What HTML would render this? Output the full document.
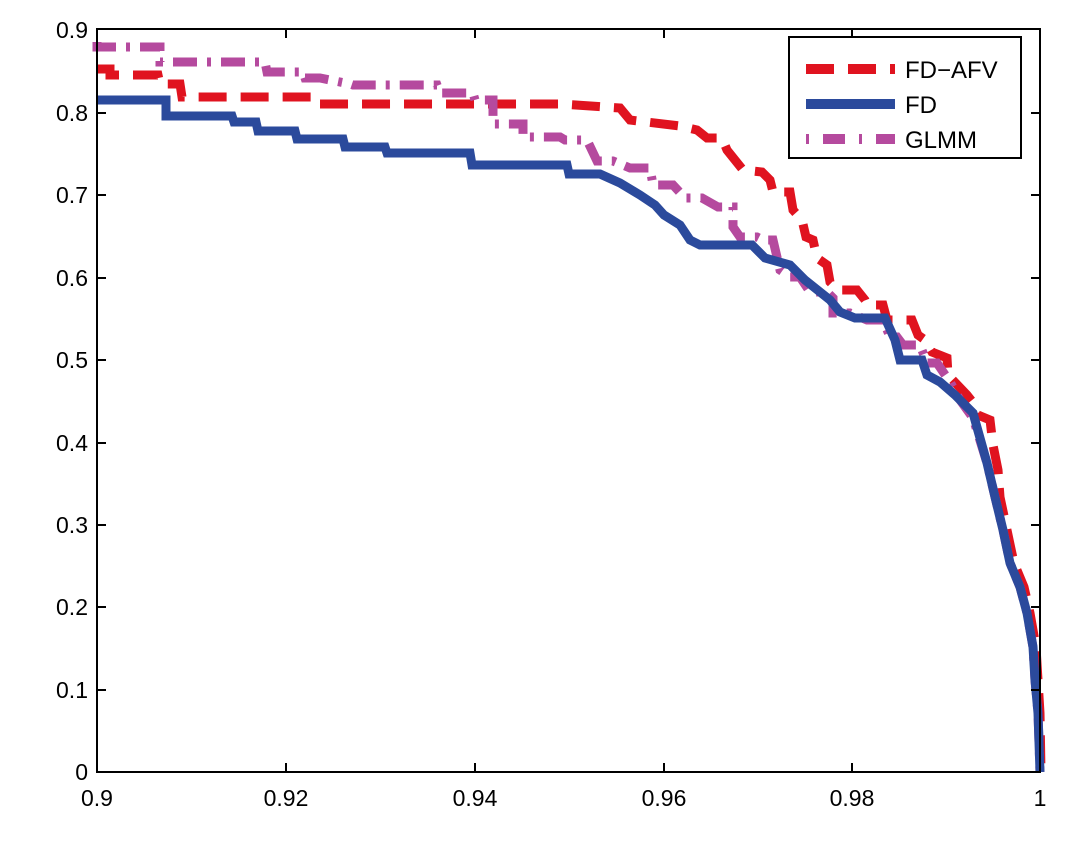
<!DOCTYPE html>
<html><head><meta charset="utf-8"><style>body{margin:0;background:#fff}svg{display:block}</style></head>
<body>
<svg width="1080" height="851" viewBox="0 0 1080 851" xmlns="http://www.w3.org/2000/svg" font-family="Liberation Sans, sans-serif">
<rect width="1080" height="851" fill="#fff"/>
<g fill="none" stroke-width="9">
<polyline stroke="#e0131f" stroke-dasharray="28 14" points="97,69 110,69 110,75 158,75 160,84 180,84 182,97 315,97 318,104 560,104 620,108 630,120 680,126 697,130 707,138 722,138 727,150 743,170 762,172 770,180 773,192 790,192 793,210 802,220 806,237 813,240 817,258 827,265 830,282 838,290 857,290 865,300 867,305 883,305 887,320 912,320 918,335 925,340 932,352 947,358 948,375 967,395 975,405 978,415 990,420 993,445 998,470 1000,497 1007,530 1014,563 1024,587 1030,613 1036,647 1038,680 1040,713 1041,772"/>
<polyline stroke="#b54a9e" stroke-dasharray="24 10 4 10" points="97,42 97,47 160,47 160,62 265,62 267,72 303,72 305,78 320,78 350,84 353,85 437,85 440,93 473,93 475,100 493,100 493,124 523,124 523,137 560,137 565,140 587,140 597,161 613,161 630,168 650,168 653,185 673,185 685,198 702,198 718,207 733,207 733,227 740,237 757,237 763,240 773,240 780,270 790,277 800,277 810,292 827,292 833,298 833,313 850,313 867,320 883,320 890,337 897,337 903,345 920,345 927,363 937,363 950,382 960,400 973,418 987,463 995,497 1003,530 1010,563 1020,587 1027,613 1033,647 1035,680 1038,713 1040,772"/>
<polyline stroke="#2b4a9c" points="97,100 166,100 166,116 232,116 234,122 256,122 258,131 295,131 297,139 343,139 345,147 385,147 387,153 470,153 472,165 567,165 569,174 600,174 620,183 640,195 655,205 664,215 680,225 690,240 700,245 752,245 765,258 790,265 805,280 830,300 840,312 855,318 885,318 895,340 900,360 922,360 927,375 940,382 955,395 973,413 987,463 995,497 1003,530 1010,563 1020,587 1027,613 1033,647 1035,680 1038,713 1040,772"/>
</g>
<g stroke="#000" stroke-width="2" fill="none">
<rect x="97" y="29" width="943" height="743"/>
<path d="M286,772v-9M475,772v-9M664,772v-9M852,772v-9M286,29v9M475,29v9M664,29v9M852,29v9"/>
<path d="M97,690h9M97,607h9M97,525h9M97,443h9M97,360h9M97,278h9M97,195h9M97,113h9M1040,690h-9M1040,607h-9M1040,525h-9M1040,443h-9M1040,360h-9M1040,278h-9M1040,195h-9M1040,113h-9"/>
</g>
<g font-size="23" fill="#000" text-anchor="end">
<text x="88" y="780">0</text><text x="88" y="698">0.1</text><text x="88" y="615">0.2</text><text x="88" y="533">0.3</text><text x="88" y="451">0.4</text><text x="88" y="368">0.5</text><text x="88" y="286">0.6</text><text x="88" y="203">0.7</text><text x="88" y="121">0.8</text><text x="88" y="38">0.9</text>
</g>
<g font-size="23" fill="#000" text-anchor="middle">
<text x="97" y="806">0.9</text><text x="286" y="806">0.92</text><text x="475" y="806">0.94</text><text x="664" y="806">0.96</text><text x="852" y="806">0.98</text><text x="1040" y="806">1</text>
</g>
<rect x="789" y="37" width="232" height="121" fill="#fff" stroke="#000" stroke-width="2"/>
<line x1="806" y1="69" x2="895" y2="69" stroke="#e0131f" stroke-width="10" stroke-dasharray="28 14"/>
<line x1="806" y1="104" x2="895" y2="104" stroke="#2b4a9c" stroke-width="10"/>
<line x1="806" y1="139" x2="895" y2="139" stroke="#b54a9e" stroke-width="10" stroke-dasharray="3 14 22 14"/>
<g font-size="24" fill="#000"><text x="905" y="78">FD−AFV</text><text x="905" y="113">FD</text><text x="905" y="148">GLMM</text></g>
</svg>
</body></html>
